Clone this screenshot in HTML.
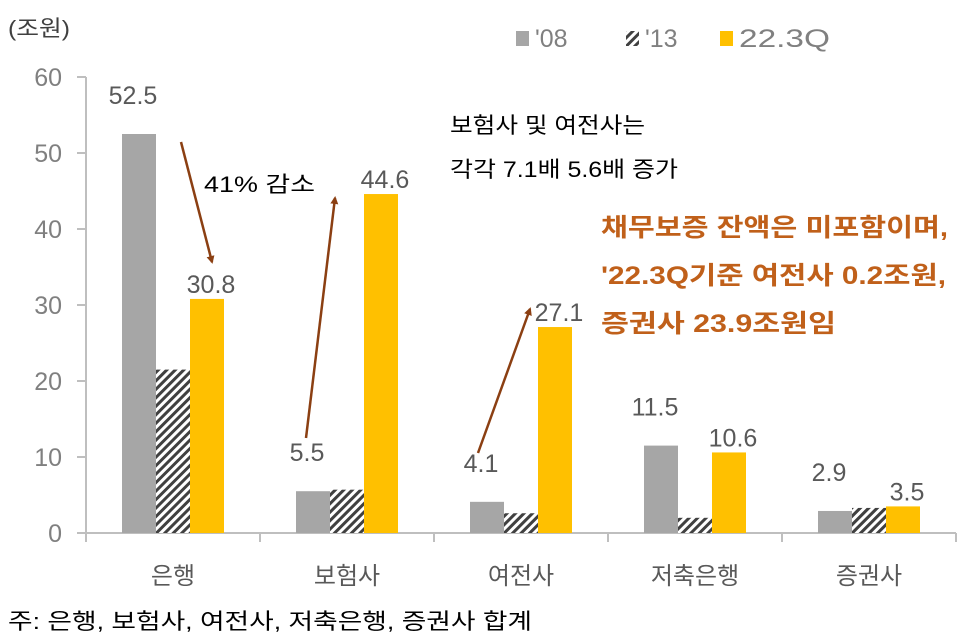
<!DOCTYPE html>
<html><head><meta charset="utf-8"><style>
body{margin:0;background:#fff;}
svg{display:block;font-family:"Liberation Sans","Noto Sans CJK KR",sans-serif;}
</style></head><body>
<svg id="c" width="968" height="638" viewBox="0 0 968 638">
<defs>
<pattern id="hatch" width="6" height="6" patternUnits="userSpaceOnUse" patternTransform="rotate(45)">
<rect width="6" height="6" fill="#fff"/><rect width="3" height="6" fill="#404040"/>
</pattern>
<marker id="ah" markerWidth="8" markerHeight="8" refX="6" refY="4" orient="auto" markerUnits="userSpaceOnUse"><path d="M0,0 L8,4 L0,8 Z" fill="#8b3f12"/></marker>
</defs>
<text x="8" y="36" font-size="22" fill="#404040" textLength="62" lengthAdjust="spacingAndGlyphs">(조원)</text>
<g id="legend">
<rect x="516" y="31" width="13" height="15" fill="#a6a6a6"/>
<text x="535" y="47" font-size="25" fill="#808080">'08</text>
<rect x="626" y="31" width="13" height="15" fill="url(#hatch)"/>
<text x="645" y="47" font-size="25" fill="#808080">'13</text>
<rect x="720" y="31" width="13" height="15" fill="#ffc000"/>
<text x="739" y="47" font-size="25" fill="#808080" textLength="91" lengthAdjust="spacingAndGlyphs">22.3Q</text>
</g>
<g id="axes"></g>
<g id="bars"></g>
<g id="ann">
<line x1="181" y1="142" x2="212" y2="262" stroke="#8b3f12" stroke-width="2.5" marker-end="url(#ah)"/>
<line x1="306" y1="438" x2="335" y2="198" stroke="#8b3f12" stroke-width="2.5" marker-end="url(#ah)"/>
<line x1="478" y1="453" x2="530" y2="309" stroke="#8b3f12" stroke-width="2.5" marker-end="url(#ah)"/>
<text x="204" y="192" font-size="22" fill="#000" textLength="111" lengthAdjust="spacingAndGlyphs">41% 감소</text>
<text x="450" y="133" font-size="22" fill="#000" textLength="195" lengthAdjust="spacingAndGlyphs">보험사 및 여전사는</text>
<text x="450" y="177" font-size="22" fill="#000" textLength="228" lengthAdjust="spacingAndGlyphs">각각 7.1배 5.6배 증가</text>
<g font-size="25" font-weight="bold" fill="#c0601a">
<text x="601" y="236" textLength="347" lengthAdjust="spacingAndGlyphs">채무보증 잔액은 미포함이며,</text>
<text x="601" y="284" textLength="345" lengthAdjust="spacingAndGlyphs">'22.3Q기준 여전사 0.2조원,</text>
<text x="601" y="332" textLength="235" lengthAdjust="spacingAndGlyphs">증권사 23.9조원임</text>
</g>
</g>
<text x="8" y="629" font-size="22" fill="#000" textLength="524" lengthAdjust="spacingAndGlyphs">주: 은행, 보험사, 여전사, 저축은행, 증권사 합계</text>
</svg>
<script>
const categories=["은행","보험사","여전사","저축은행","증권사"];
const s08=[52.5,5.5,4.1,11.5,2.9];
const s13=[21.5,5.7,2.6,2.0,3.3];
const s22=[30.8,44.6,27.1,10.6,3.5];
const yTicks=[0,10,20,30,40,50,60];
const labels08=["52.5","5.5","4.1","11.5","2.9"];
const labels22=["30.8","44.6","27.1","10.6","3.5"];
const NS="http://www.w3.org/2000/svg";
const x0=86,cw=174,y0=533,yScale=7.6;
const y=v=>y0-v*yScale;
const cx=i=>x0+cw*i+cw/2;
const ax=document.getElementById('axes'),bg=document.getElementById('bars');
function mk(tag,attrs,parent){const e=document.createElementNS(NS,tag);for(const k in attrs)e.setAttribute(k,attrs[k]);parent.appendChild(e);return e;}
let l=mk('line',{x1:x0,y1:y(60),x2:x0,y2:y0,stroke:'#bfbfbf','stroke-width':2},ax);


l=mk('line',{x1:x0,y1:y0,x2:x0+cw*5,y2:y0,stroke:'#bfbfbf','stroke-width':2},ax);


yTicks.forEach(t=>{
 const tk=mk('line',{x1:x0-9,y1:y(t),x2:x0,y2:y(t),stroke:'#bfbfbf','stroke-width':2},ax);
 
 
 const tx=mk('text',{x:62,y:y(t)+9,'font-size':25,fill:'#808080','text-anchor':'end'},ax);
 tx.textContent=t;
 
 
});
for(let i=0;i<=5;i++){
 const tk=mk('line',{x1:x0+cw*i,y1:y0,x2:x0+cw*i,y2:y0+9,stroke:'#bfbfbf','stroke-width':2},ax);
 
 
}
categories.forEach((c,i)=>{
 const tx=mk('text',{x:cx(i),y:584,'font-size':24,fill:'#595959','text-anchor':'middle'},ax);
 tx.textContent=c;
 
 
 const bw=34,b=cx(i)-bw*1.5;
 const r1=mk('rect',{x:b,y:y(s08[i]),width:bw,height:s08[i]*yScale,fill:'#a6a6a6'},bg);
 
 
 const r2=mk('rect',{x:b+bw,y:y(s13[i]),width:bw,height:s13[i]*yScale,fill:'url(#hatch)'},bg);
 
 
 const r3=mk('rect',{x:b+bw*2,y:y(s22[i]),width:bw,height:s22[i]*yScale,fill:'#ffc000'},bg);
 
 
 const t1=mk('text',{x:b+bw/2-6,y:y(s08[i])-30,'font-size':25,fill:'#595959','text-anchor':'middle'},bg);
 t1.textContent=labels08[i];
 
 
 const t3=mk('text',{x:b+bw*2.5+4,y:y(s22[i])-6,'font-size':25,fill:'#595959','text-anchor':'middle'},bg);
 t3.textContent=labels22[i];
 
 
});
</script>
</body></html>
